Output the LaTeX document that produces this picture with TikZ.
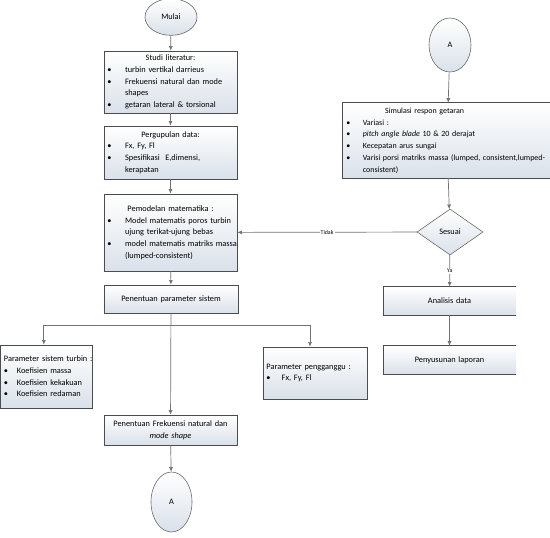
\documentclass[tikz,border=0pt]{standalone}
\usepackage{fontspec}
\setmainfont{Carlito}
\usepackage{xcolor}
\usetikzlibrary{positioning,arrows.meta,shapes.geometric}

\definecolor{boxbot}{RGB}{218,225,234}
\definecolor{linegray}{RGB}{115,115,115}
\newcommand{\itm}[2][15pt]{\par\hangindent=#1\hangafter=1\noindent\makebox[#1][l]{\textbullet}#2\par}

\begin{document}
\begin{tikzpicture}[x=0.03cm, y=-0.03cm, >={Latex[length=4pt,width=3.5pt]},
    font=\fontsize{7.1}{10}\selectfont,
    box/.style={draw=black!70, line width=0.5pt, top color=white, bottom color=boxbot, inner xsep=3pt, inner ysep=2pt},
    openbox/.style={top color=white, bottom color=boxbot, inner xsep=3pt, inner ysep=2pt},
    term/.style={ellipse, draw=black!60, line width=0.5pt, top color=white, bottom color=boxbot, inner sep=0pt},
    decide/.style={diamond, draw=black!60, line width=0.5pt, top color=white, bottom color=boxbot, inner sep=0pt},
    conn/.style={->, draw=linegray, line width=0.6pt},
    small/.style={font=\fontsize{5}{6}\selectfont, fill=white, inner sep=1pt}]

\useasboundingbox (0,0) rectangle (550,538);

% Left column
\node[term, minimum width=1.56cm, minimum height=1.1cm] (mulai) at (171,17) {Mulai};

\node[box, text width=3.78cm, minimum height=1.86cm] (studi) at (170.5,82) {%
    {\centering Studi literatur:\par}
    \itm{\mbox{turbin vertikal darrieus}}
    \itm{\mbox{Frekuensi natural dan mode}\newline\mbox{shapes}}
    \itm{\mbox{getaran lateral \& torsional}}};

\node[box, text width=3.78cm, minimum height=1.59cm] (data) at (170.5,152.5) {%
    {\centering Pergupulan data:\par}
    \itm{\mbox{Fx, Fy, Fl}}
    \itm{\mbox{Spesifikasi \ E,dimensi,}\newline\mbox{kerapatan}}};

\node[box, text width=3.78cm, minimum height=2.31cm] (model) at (170.5,232.5) {%
    {\centering Pemodelan matematika :\par}
    \itm{\mbox{Model matematis poros turbin}\newline\mbox{ujung terikat-ujung bebas}}
    \itm{\mbox{model matematis matriks massa}\newline\mbox{(lumped-consistent)}}};

\node[box, text width=3.81cm, minimum height=0.84cm, align=center] (param) at (171,299) {Penentuan parameter sistem};

\node[box, text width=2.55cm, minimum height=1.89cm] (turbin) at (46.5,376.5) {%
    \mbox{Parameter sistem turbin :}
    \itm[11pt]{\mbox{Koefisien massa}}
    \itm[11pt]{\mbox{Koefisien kekakuan}}
    \itm[11pt]{\mbox{Koefisien redaman}}};

\node[box, text width=2.91cm, minimum height=1.56cm] (gangguan) at (315,373) {%
    \mbox{Parameter pengganggu :}
    \itm[13pt]{\mbox{Fx, Fy, Fl}}};

\node[box, text width=3.78cm, minimum height=0.9cm, align=center] (freq) at (170.5,430) {Penentuan Frekuensi natural dan\\\textit{mode shape}};

\node[term, minimum width=1.23cm, minimum height=1.8cm] (A1) at (171.5,502) {A};

% Right column
\node[term, minimum width=1.26cm, minimum height=1.62cm] (A2) at (450,45) {A};

\node[openbox, text width=6.03cm, minimum height=2.25cm, font=\fontsize{6.8}{10}\selectfont] (simulasi) at (447,140.5) {%
    {\hspace*{33pt}Simulasi respon getaran\par}
    \itm[14pt]{\mbox{Variasi :}}
    \itm[14pt]{\mbox{\textit{pitch angle blade} 10 \& 20 derajat}}
    \itm[14pt]{\mbox{Kecepatan arus sungai}}
    \itm[14pt]{\mbox{Varisi porsi matriks massa (lumped, consistent,lumped-}\newline\mbox{consistent)}}};

\node[decide, minimum width=1.98cm, minimum height=1.38cm] (sesuai) at (450,232) {Sesuai};

\node[openbox, text width=3.75cm, minimum height=0.84cm, align=center] (analisis) at (449.5,301) {Analisis data};
\node[openbox, text width=3.75cm, minimum height=0.84cm, align=center] (laporan) at (449.5,360) {Penyusunan laporan};

% Open box edges
\foreach \n in {simulasi, analisis, laporan}
    \draw[draw=black!70, line width=0.5pt] (\n.north east) -- (\n.north west) -- (\n.south west) -- (\n.south east);

% Connections
\draw[conn] (mulai) -- (studi);
\draw[conn] (studi) -- (data);
\draw[conn] (data) -- (model);
\draw[conn] (model) -- (param);
\draw[conn] (param) -- (freq);
\draw[conn] (freq) -- (A1);

\coordinate (cabang) at (171,325);
\draw[conn] (cabang) -| ([xshift=-0.08cm]turbin.north);
\draw[conn] (cabang) -| ([xshift=-0.15cm]gangguan.north);

\draw[conn] (A2) -- (simulasi);
\draw[conn] (simulasi) -- (sesuai);
\draw[conn] (sesuai) -- node[small] {Ya} (analisis);
\draw[conn] (analisis) -- (laporan);
\draw[conn] (sesuai) -- node[small] {Tidak} (model);

\end{tikzpicture}
\end{document}
